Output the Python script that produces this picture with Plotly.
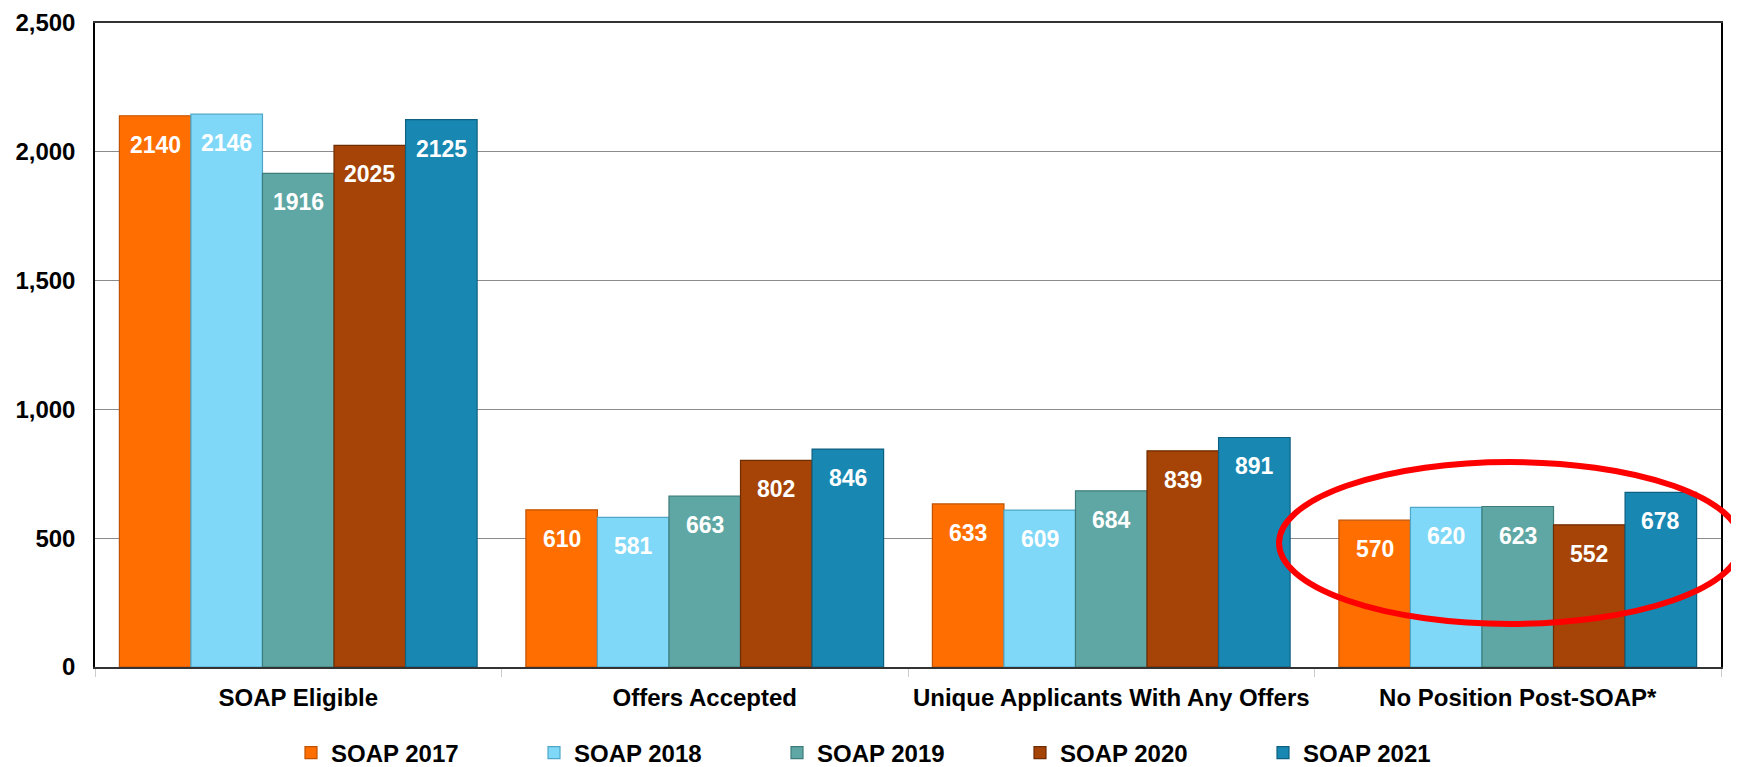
import plotly.graph_objects as go

categories = ["SOAP Eligible", "Offers Accepted", "Unique Applicants With Any Offers", "No Position Post-SOAP*"]
series_names = ["SOAP 2017", "SOAP 2018", "SOAP 2019", "SOAP 2020", "SOAP 2021"]
soap_2017 = [2140, 610, 633, 570]
soap_2018 = [2146, 581, 609, 620]
soap_2019 = [1916, 663, 684, 623]
soap_2020 = [2025, 802, 839, 552]
soap_2021 = [2125, 846, 891, 678]
series_values = [soap_2017, soap_2018, soap_2019, soap_2020, soap_2021]
y_ticks = [0, 500, 1000, 1500, 2000, 2500]

colors = ["#FF6E00", "#80D8F8", "#5FA7A4", "#A54406", "#1888B3"]
outlines = ["#C05200", "#4FA6C6", "#3D7C7A", "#6E2C02", "#0E5F80"]

FONT = "Liberation Sans, Arial, sans-serif"
BARGAP = 0.12

fig = go.Figure()
for name, vals, c, oc in zip(series_names, series_values, colors, outlines):
    fig.add_trace(go.Bar(
        name=name, x=categories, y=vals,
        marker=dict(color=c, line=dict(color=oc, width=1.2)),
    ))

# value labels, placed through the axis scales
n = len(series_names)
bw = (1 - BARGAP) / n
annotations = []
for i, vals in enumerate(series_values):
    for j, v in enumerate(vals):
        annotations.append(dict(
            x=j + (i - (n - 1) / 2) * bw, y=v, xref="x", yref="y",
            text=f"<b>{v}</b>", showarrow=False, yanchor="top", yshift=-14,
            font=dict(family=FONT, size=23, color="white"),
        ))

# page body has an 8px default margin
OFF = 8
W, H = 1739 - OFF, 767 - OFF
L, R, T, B = 95 - OFF, 18, 23 - OFF, 100
pw, ph = W - L - R, H - T - B

def px_x(x):
    return (x - OFF - L) / pw

def px_y(y):
    return (H - B - (y - OFF)) / ph

fig.update_layout(
    width=W, height=H,
    margin=dict(l=L, r=R, t=T, b=B, autoexpand=False),
    paper_bgcolor="white", plot_bgcolor="white",
    barmode="group", bargap=BARGAP, bargroupgap=0,
    font=dict(family=FONT, color="black"),
    annotations=annotations,
    showlegend=True,
    legend=dict(
        orientation="h", x=px_x(291), xanchor="left", y=px_y(753), yanchor="middle",
        font=dict(family=FONT, size=24, color="black", weight="bold"),
        entrywidth=198, entrywidthmode="pixels",
        bgcolor="rgba(0,0,0,0)",
    ),
    shapes=[dict(
        type="circle", xref="paper", yref="paper",
        x0=px_x(1279), x1=px_x(1741), y0=px_y(624), y1=px_y(462),
        line=dict(color="#FF0000", width=6),
    )],
)
fig.update_yaxes(
    range=[0, 2500], tickvals=y_ticks, tickformat=",",
    tickfont=dict(family=FONT, size=24, color="black", weight="bold"),
    showgrid=True, gridcolor="#8C8C8C", gridwidth=1,
    zeroline=False, showline=True, linecolor="black", linewidth=1.5, mirror=True,
    ticks="", ticklabelstandoff=13,
)
fig.update_xaxes(
    tickfont=dict(family=FONT, size=24, color="black", weight="bold"),
    tickangle=0,
    showline=True, linecolor="#333333", linewidth=1.5, mirror=True,
    ticks="outside", tickson="boundaries", ticklen=8, tickcolor="#CCCCCC",
    ticklabelstandoff=8,
)

fig.write_html("out.html")
